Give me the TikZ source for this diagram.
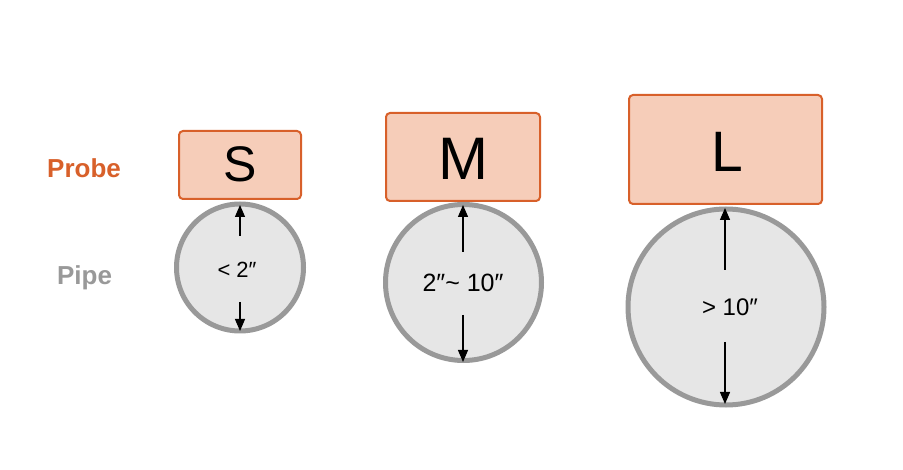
\documentclass[tikz,border=0pt]{standalone}
\usepackage{fontspec}
\setmainfont{Liberation Sans}
\usetikzlibrary{arrows.meta}
\definecolor{probeline}{HTML}{D8602A}
\definecolor{probefill}{HTML}{F6CDB9}
\definecolor{pipeline}{HTML}{999999}
\definecolor{pipefill}{HTML}{E6E6E6}
\begin{document}
\begin{tikzpicture}[x=1pt,y=-1pt,
  probebox/.style={draw=probeline,fill=probefill,line width=2pt,rounded corners=4pt,inner sep=0pt},
  pipecirc/.style={circle,draw=pipeline,fill=pipefill,line width=5pt,inner sep=0pt},
  letter/.style={anchor=base,inner sep=0pt,text=black},
  dimlabel/.style={anchor=base,inner sep=0pt,text=black},
  dimarrow/.style={line width=1.3pt,-{Triangle[length=12pt,width=10pt]}}
]
\useasboundingbox (0,0) rectangle (903,470);
\fill[white] (0,0) rectangle (903,470);
% side labels
\node[anchor=base,inner sep=0pt,text=probeline,font=\fontsize{26}{30}\selectfont\bfseries] (probelbl) at (84,178) {Probe};
\node[anchor=base,inner sep=0pt,text=pipeline,font=\fontsize{26}{30}\selectfont\bfseries] (pipelbl) at (84.5,285) {Pipe};
% pipes
\node[pipecirc,minimum size=127pt] (cs) at (240,267.5) {};
\node[pipecirc,minimum size=156pt] (cm) at (463.5,282.5) {};
\node[pipecirc,minimum size=196pt] (cl) at (726,307) {};
% probes
\node[probebox,minimum width=122pt,minimum height=68pt] (bs) at (240,165) {};
\node[probebox,minimum width=154pt,minimum height=88pt] (bm) at (463,157) {};
\node[probebox,minimum width=193pt,minimum height=109pt] (bl) at (725.5,149.5) {};
\node[letter,font=\fontsize{50}{56}\selectfont] (ts) at (240,182) {S};
\node[letter,font=\fontsize{60}{66}\selectfont] (tm) at (463.5,180) {M};
\node[letter,font=\fontsize{57}{62}\selectfont] (tl) at (727,172) {L};
% dimension labels
\node[dimlabel,font=\fontsize{22}{26}\selectfont] (ls) at (237,278) {<\;2″};
\node[dimlabel,font=\fontsize{25}{28}\selectfont] (lm) at (463,292) {2″\textasciitilde\ 10″};
\node[dimlabel,font=\fontsize{24}{28}\selectfont] (ll) at (730,316) {>\;10″};
% arrow coordinates
\coordinate (sa1) at (240,236); \coordinate (sa2) at (240,205);
\coordinate (sb1) at (240,302); \coordinate (sb2) at (240,331);
\coordinate (ma1) at (463,252); \coordinate (ma2) at (463,205);
\coordinate (mb1) at (463,315); \coordinate (mb2) at (463,362);
\coordinate (la1) at (725,270); \coordinate (la2) at (725,208);
\coordinate (lb1) at (725,342); \coordinate (lb2) at (725,404);
\draw[dimarrow] (sa1) -- (sa2);
\draw[dimarrow] (sb1) -- (sb2);
\draw[dimarrow] (ma1) -- (ma2);
\draw[dimarrow] (mb1) -- (mb2);
\draw[dimarrow] (la1) -- (la2);
\draw[dimarrow] (lb1) -- (lb2);
\end{tikzpicture}
\end{document}
